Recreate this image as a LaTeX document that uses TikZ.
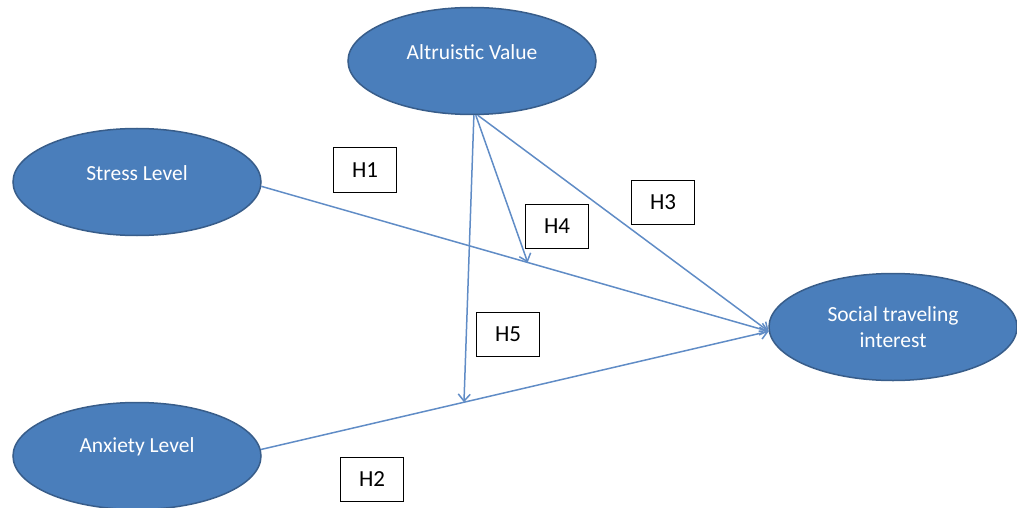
\documentclass[tikz,border=0pt]{standalone}
\usepackage{fontspec}
\setmainfont{Carlito}
\usepackage{xcolor}
\usetikzlibrary{shapes.geometric,arrows,arrows.meta}

\definecolor{ovalblue}{RGB}{74,126,187}
\definecolor{ovalrim}{RGB}{56,93,138}
\definecolor{linkblue}{RGB}{96,140,198}
\newcommand{\lift}[1]{\raisebox{9pt}[\height][\depth]{#1}}

\begin{document}
\begin{tikzpicture}[x=1pt,y=-1pt,
    every node/.style={font=\fontsize{21.5}{26}\selectfont},
    construct/.style={ellipse,draw=ovalrim,line width=1.5pt,fill=ovalblue,text=white,
      minimum width=248pt,minimum height=107pt,inner sep=0pt,align=center},
    hyp/.style={draw=black,fill=white,line width=1pt,minimum width=63pt,minimum height=44pt,
      inner sep=0pt,font=\fontsize{23}{26}\selectfont},
    link/.style={-{Straight Barb[length=7pt,width=12pt]},draw=linkblue,line width=1.5pt}]
    \useasboundingbox (0,0) rectangle (1017,508);
    \node[construct] (altru) at (472,61) {\lift{Altruistic Value}};
    \node[construct] (stress) at (137,182) {\lift{Stress Level}};
    \node[construct] (anxiety) at (137,456) {\lift{Anxiety Level}};
    \node[construct] (social) at (893,327) {Social traveling\\interest};
    \node[hyp] (h1) at (365,170) {H1};
    \node[hyp] (h2) at (372,479) {H2};
    \node[hyp] (h3) at (663,202) {H3};
    \node[hyp] (h4) at (557,226) {H4};
    \node[hyp] (h5) at (508,334) {H5};
    \draw[link] (stress.-2.5) -- coordinate[pos=0.525] (stressmid) (social.182.5);
    \draw[link] (anxiety.3) -- coordinate[pos=0.4] (anxietymid) (social.182.5);
    \draw[link] (altru.-88) -- (anxietymid);
    \draw[link] (altru.-86) -- (stressmid);
    \draw[link] (altru.-84) -- (social.182.5);
  \end{tikzpicture}
\end{document}
